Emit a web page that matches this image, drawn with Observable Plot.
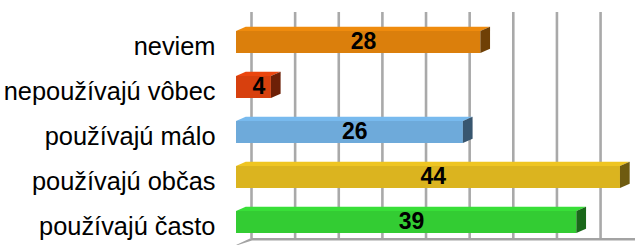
<!DOCTYPE html>
<html><head><meta charset="utf-8">
<script src="https://cdn.jsdelivr.net/npm/d3@7"></script>
<script src="https://cdn.jsdelivr.net/npm/@observablehq/plot@0.6"></script>
<style>body{margin:0;background:#fff}</style>
</head><body><div id="chart"></div>
<script>
const categories = ["neviem", "nepoužívajú vôbec", "používajú málo", "používajú občas", "používajú často"];
const values = [28, 4, 26, 44, 39];
const palette = ["#db7f0c", "#d7400e", "#6eaada", "#dbb41f", "#33cc33"];
const gridTicks = [0, 5, 10, 15, 20, 25, 30, 35, 40];

const data = categories.map((c, i) => ({category: c, value: values[i]}));
const DX = 9.7, DY = 4.3, WALL = 15;
const SVGNS = "http://www.w3.org/2000/svg";

function poly(doc, pts, fill) {
  const p = doc.createElementNS(SVGNS, "polygon");
  p.setAttribute("points", pts.map(d => d.join(",")).join(" "));
  p.setAttribute("fill", fill);
  return p;
}

function faces(index, scales, vals, dims, context, next) {
  const g = next(index, scales, vals, dims, context);
  const doc = context.document;
  for (const r of Array.from(g.querySelectorAll("rect"))) {
    const x = +r.getAttribute("x"), y = +r.getAttribute("y");
    const w = +r.getAttribute("width"), h = +r.getAttribute("height");
    const fill = r.getAttribute("fill");
    const par = r.parentNode;
    par.appendChild(poly(doc, [[x, y], [x + DX, y - DY], [x + w + DX, y - DY], [x + w, y]], d3.color(fill).brighter(0.25).formatHex()));
    par.appendChild(poly(doc, [[x + w, y], [x + w + DX, y - DY], [x + w + DX, y + h - DY], [x + w, y + h]], d3.color(fill).darker(1.9).formatHex()));
  }
  return g;
}

function floor(index, scales, vals, dims, context) {
  const doc = context.document;
  const {width, height, marginBottom} = dims;
  const x0 = scales.x(0), yb = height - marginBottom;
  const g = doc.createElementNS(SVGNS, "g");
  g.appendChild(poly(doc, [[x0, yb + 7], [x0 + WALL, yb], [width, yb], [width, yb + 2.5], [x0 + WALL + 1, yb + 2.5], [x0 + 2, yb + 7]], "#a3a3a3"));
  return g;
}

const chart = Plot.plot({
  width: 635,
  height: 245,
  marginLeft: 236,
  marginRight: 6.3,
  marginTop: 12,
  marginBottom: 7,
  style: {fontFamily: "'Liberation Sans', Arial, sans-serif", background: "#fff", overflow: "visible"},
  x: {domain: [0, 45], axis: null},
  y: {domain: categories, paddingInner: 0.5165, paddingOuter: 0.2418, align: 0.795, axis: null},
  color: {domain: categories, range: palette},
  marks: [
    Plot.ruleX(gridTicks, {x: d => d, dx: WALL, stroke: "#a9a9a9", strokeWidth: 2.6}),
    floor,
    Plot.barX(data, {x: "value", y: "category", fill: "category", render: faces}),
    Plot.text(data, {x: d => d.value / 2, y: "category", text: d => String(d.value), dx: DX / 2, dy: -1, fontSize: 23, fontWeight: "bold", fill: "#000"}),
    Plot.text(categories, {x: () => 0, y: d => d, text: d => d, textAnchor: "end", dx: -21, dy: 4.5, fontSize: 25.4, fill: "#000"})
  ]
});
document.getElementById("chart").appendChild(chart);
</script>
</body></html>
